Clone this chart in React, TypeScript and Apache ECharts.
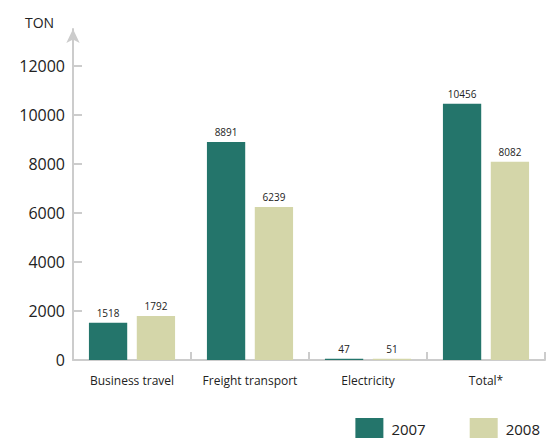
import React, { useEffect, useRef } from "react";
import * as echarts from "echarts";

const categories = ["Business travel", "Freight transport", "Electricity", "Total*"];
const values2007 = [1518, 8891, 47, 10456];
const values2008 = [1792, 6239, 51, 8082];
const yTicks = [0, 2000, 4000, 6000, 8000, 10000, 12000];

const FONT = "'Open Sans', 'Noto Sans', sans-serif";

export default function App() {
  const ref = useRef<HTMLDivElement>(null);
  useEffect(() => {
    if (!ref.current) return;
    const chart = echarts.init(ref.current, null, { renderer: "svg" });
    chart.setOption({
      animation: false,
      textStyle: { fontFamily: FONT },
      grid: { left: 73, right: 2, top: 29, bottom: 78, containLabel: false },
      legend: {
        right: 2,
        top: 413,
        itemWidth: 28,
        itemHeight: 21,
        itemGap: 44,
        icon: "rect",
        textStyle: { fontSize: 15, color: "#222", fontFamily: FONT, padding: [0, 0, 0, 3] },
        data: ["2007", "2008"],
      },
      graphic: [
        {
          type: "text",
          left: 25,
          top: 15,
          style: { text: "TON", fontSize: 14, fill: "#222", fontFamily: FONT },
        },
      ],
      xAxis: {
        type: "category",
        data: categories,
        axisLine: { lineStyle: { color: "#cccccc", width: 2 } },
        axisTick: { show: true, inside: true, length: 8, lineStyle: { color: "#cccccc", width: 2 } },
        axisLabel: { color: "#222", fontSize: 12, margin: 14, interval: 0, fontFamily: FONT },
      },
      yAxis: {
        type: "value",
        min: 0,
        max: 13500,
        axisLine: {
          show: true,
          symbol: ["none", "arrow"],
          symbolSize: [10, 14],
          lineStyle: { color: "#cccccc", width: 2 },
        },
        axisTick: {
          show: true,
          inside: true,
          length: 9,
          customValues: yTicks,
          lineStyle: { color: "#cccccc", width: 2 },
        },
        axisLabel: {
          color: "#222",
          fontSize: 16,
          margin: 8,
          customValues: yTicks,
          fontFamily: FONT,
          formatter: (v: number) => String(v),
        },
        splitLine: { show: false },
      },
      series: [
        {
          name: "2007",
          type: "bar",
          data: values2007,
          barGap: "25%",
          barCategoryGap: "27%",
          itemStyle: { color: "#24756b" },
          label: { show: true, position: "top", distance: 5, fontSize: 10, color: "#222", fontFamily: FONT },
        },
        {
          name: "2008",
          type: "bar",
          data: values2008,
          itemStyle: { color: "#d4d6a9" },
          label: { show: true, position: "top", distance: 5, fontSize: 10, color: "#222", fontFamily: FONT },
        },
      ],
    });
    return () => chart.dispose();
  }, []);
  return <div ref={ref} style={{ width: 547, height: 438, position: "absolute", left: 0, top: 0 }} />;
}
